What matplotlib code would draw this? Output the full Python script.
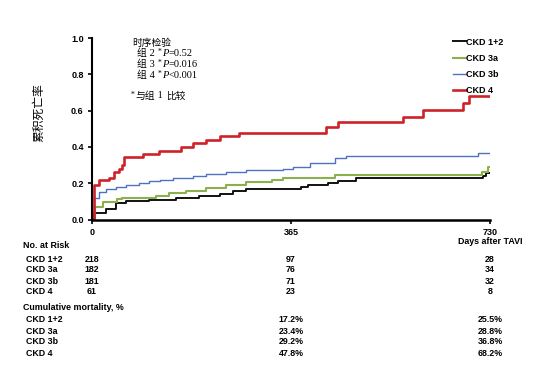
import numpy as np
import matplotlib
matplotlib.use("Agg")
import matplotlib.pyplot as plt
import matplotlib.transforms as mtransforms

plt.rcParams['font.family'] = ['Noto Sans CJK SC', 'DejaVu Sans']

# step curves: (day, cumulative mortality)
days_12 = [0, 4, 25, 44, 62, 105, 154, 197, 234, 258, 282, 383, 396, 432, 451, 484, 717, 722, 730]
mort_12 = [0, 0.034, 0.06, 0.093, 0.10, 0.11, 0.12, 0.13, 0.14, 0.155, 0.168, 0.18, 0.19, 0.20, 0.213, 0.227, 0.24, 0.255, 0.255]

days_3a = [0, 5, 20, 45, 55, 117, 142, 172, 209, 246, 282, 331, 350, 445, 715, 726, 730]
mort_3a = [0, 0.07, 0.095, 0.112, 0.12, 0.13, 0.145, 0.155, 0.172, 0.19, 0.205, 0.217, 0.23, 0.245, 0.26, 0.288, 0.288]

days_3b = [0, 4, 13, 25, 44, 62, 87, 105, 124, 148, 185, 209, 246, 283, 350, 368, 399, 445, 466, 708, 730]
mort_3b = [0, 0.12, 0.15, 0.17, 0.18, 0.19, 0.20, 0.21, 0.22, 0.23, 0.24, 0.25, 0.26, 0.27, 0.28, 0.292, 0.31, 0.337, 0.352, 0.368, 0.368]

days_4 = [0, 4, 13, 32, 41, 50, 55, 59, 93, 122, 163, 185, 209, 234, 270, 429, 451, 570, 607, 680, 692, 730]
mort_4 = [0, 0.19, 0.22, 0.23, 0.26, 0.28, 0.30, 0.345, 0.36, 0.38, 0.40, 0.42, 0.44, 0.46, 0.478, 0.508, 0.539, 0.566, 0.603, 0.643, 0.682, 0.682]

groups = ['CKD 1+2', 'CKD 3a', 'CKD 3b', 'CKD 4']
colors = ['#111111', '#8db04f', '#4f72c0', '#cc2229']
widths = [1.4, 1.5, 1.0, 1.9]

risk_days = [0, 365, 730]
at_risk = [[218, 97, 28], [182, 76, 34], [181, 71, 32], [61, 23, 8]]
cum_mort = [['17.2%', '25.5%'], ['23.4%', '28.8%'], ['29.2%', '36.8%'], ['47.8%', '68.2%']]

# log-rank test: group number and P text
test_groups = ['2', '3', '4']
test_p = ['=0.52', '=0.016', '<0.001']

fig = plt.figure(figsize=(5.34, 3.86), dpi=100)
W, H = 534, 386
ax = fig.add_axes([92 / W, 1 - 219.5 / H, 398 / W, 181.5 / H])

curves = [(days_12, mort_12), (days_3a, mort_3a), (days_3b, mort_3b), (days_4, mort_4)]
for (d, m), name, c, lw in zip(curves, groups, colors, widths):
    ax.plot(d, m, drawstyle='steps-post', color=c, lw=lw, label=name)

sans_b = dict(fontweight='bold', family='Liberation Sans')

ax.set_xlim(0, 730)
ax.set_ylim(0, 1.0)
yt = np.arange(0, 1.01, 0.2)
ax.set_yticks(yt)
ax.set_yticklabels(['%.1f' % v for v in yt], fontsize=6.5, **sans_b)
ax.set_xticks(risk_days)
ax.set_xticklabels([str(d) for d in risk_days], fontsize=6.5, **sans_b)
ax.tick_params(axis='y', length=3, width=1.2, pad=3)
ax.tick_params(axis='x', length=3, width=1.2, pad=3)
for s in ['top', 'right']:
    ax.spines[s].set_visible(False)
ax.spines['left'].set_linewidth(1.5)
ax.spines['bottom'].set_linewidth(1.8)
ax.set_ylabel('累积死亡率', fontsize=8.5)
ax.yaxis.set_label_coords(-0.118, 0.587)

# log-rank annotation, built piece by piece so P can be italic
renderer = fig.canvas.get_renderer()
cjk = dict(family=['Noto Sans CJK SC'], fontsize=7)
ser = dict(family=['Liberation Serif'], fontsize=7.5)
ser_i = dict(family=['Liberation Serif'], fontsize=7.5, style='italic')
star = dict(family=['Liberation Serif'], fontsize=5.5)
gap = dict(family=['Liberation Serif'], fontsize=3)


def chain(x, y, pieces):
    for s, kw, dy in pieces:
        t = fig.text(x / W, 1 - (y - dy) / H, s, va='baseline', ha='left', **kw)
        x = t.get_window_extent(renderer).x1


chain(132, 45.5, [('时序检验', cjk, 0)])
for i, (g, p) in enumerate(zip(test_groups, test_p)):
    chain(137, 56 + 11 * i, [('组', cjk, 0), (' ' + g + ' ', ser, 0), ('*', star, 2),
                             (' ', gap, 0), ('P', ser_i, 0), (p, ser, 0)])
chain(131, 98.5, [('*', star, 2), (' ', gap, 0), ('与组', cjk, 0),
                  (' 1 ', ser, 0), ('比较', cjk, 0)])

fig.legend(loc='upper left', bbox_to_anchor=(448 / W, 1 - 33 / H), frameon=False,
           handlelength=1.45, handletextpad=0.05, labelspacing=0.8, borderpad=0,
           prop={'weight': 'bold', 'size': 6.5, 'family': 'Liberation Sans'})

# risk table below the axes: x in days, y in figure fraction
tr = mtransforms.blended_transform_factory(ax.transData, fig.transFigure)
bold = dict(fontsize=6.4, va='center', **sans_b)

fig.text(490 / W, 1 - 241 / H, 'Days after TAVI', ha='center', **bold)
fig.text(23 / W, 1 - 245 / H, 'No. at Risk', ha='left', **bold)
fig.text(23 / W, 1 - 307 / H, 'Cumulative mortality, %', ha='left', **bold)

risk_rows = [259, 270, 281, 292]
mort_rows = [320, 331, 342, 353]
for i, name in enumerate(groups):
    fig.text(26 / W, 1 - risk_rows[i] / H, name, ha='left', **bold)
    fig.text(26 / W, 1 - mort_rows[i] / H, name, ha='left', **bold)
    for d, n in zip(risk_days, at_risk[i]):
        ax.text(d, 1 - risk_rows[i] / H, str(n), transform=tr, ha='center', clip_on=False, **bold)
    for d, p in zip(risk_days[1:], cum_mort[i]):
        ax.text(d, 1 - mort_rows[i] / H, p, transform=tr, ha='center', clip_on=False, **bold)

fig.savefig('out.png', dpi=100)
